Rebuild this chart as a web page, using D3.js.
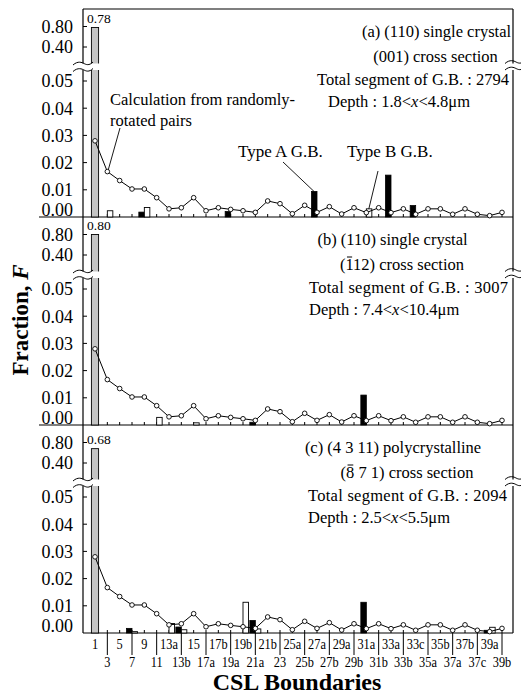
<!DOCTYPE html>
<html>
<head>
<meta charset="utf-8">
<script src="https://cdn.jsdelivr.net/npm/d3@7"></script>
<style>
  html, body { margin: 0; padding: 0; background: #fff; }
  svg { display: block; }
  text { font-family: "Liberation Serif", "Times New Roman", serif; fill: #000; }
</style>
</head>
<body>
<svg id="chart" width="521" height="697"></svg>
<script>
// CSL boundary categories (Sigma value + variant)
const categories = ["1","3","5","7","9","11","13a","13b","15","17a","17b","19a","19b","21a","21b","23",
  "25a","25b","27a","27b","29a","29b","31a","31b","33a","33b","33c","35a","35b","37a","37b","37c","39a","39b"];

// Fraction expected for randomly-rotated pairs (same curve in every panel)
const randomPairs = [0.028, 0.0167, 0.0134, 0.0103, 0.0103, 0.0071, 0.0030, 0.0034, 0.0071, 0.0023,
  0.0034, 0.0028, 0.0023, 0.0017, 0.0059, 0.0049, 0.0012, 0.0043, 0.0017, 0.0038, 0.0011, 0.0034,
  0.0016, 0.0034, 0.0016, 0.0030, 0.0010, 0.0030, 0.0030, 0.0010, 0.0030, 0.0010, 0.0005, 0.0017];

// Sigma 1 (low-angle) fraction for panels a, b, c
const sigma1 = [0.78, 0.80, 0.68];

// Type A (black) and Type B (white) grain boundary fractions, [category, value]
const typeA_a = [["9", 0.0018], ["19a", 0.0020], ["27a", 0.0094], ["33a", 0.0154], ["33c", 0.0042]];
const typeB_a = [["3", 0.0023], ["9", 0.0035], ["31a", 0.0030]];
const typeA_b = [["21a", 0.0010], ["31a", 0.0110]];
const typeB_b = [["11", 0.0028], ["15", 0.0008]];
const typeA_c = [["7", 0.0017], ["13b", 0.0022], ["21a", 0.0046], ["31a", 0.0113], ["39a", 0.0010]];
const typeB_c = [["7", 0.0005], ["13a", 0.0035], ["13b", 0.0012], ["19b", 0.0113], ["21a", 0.0015], ["39a", 0.0021]];

// Axis ticks
const lowerTicks = [0, 0.01, 0.02, 0.03, 0.04, 0.05];
const upperTicks = [0.40, 0.80];

// Panel annotations (overbar index marks a barred Miller index digit)
const panelTitles = ["(a) (110) single crystal", "(b) (110) single crystal", "(c) (4 3 11) polycrystalline"];
const panelSections = ["(001) cross section", "(112) cross section", "(8 7 1) cross section"];
const sectionOverbar = [null, 1, 1];
const totalSegments = ["2794", "3007", "2094"];
const depthLow = ["1.8", "7.4", "2.5"];
const depthHigh = ["4.8", "10.4", "5.5"];

const typeAByPanel = [typeA_a, typeA_b, typeA_c];
const typeBByPanel = [typeB_a, typeB_b, typeB_c];

const svg = d3.select("#chart");
const axisLeft = 83, axisRight = 513;
const panelTops = [9, 217, 425];
const panelH = 208;

const x = d3.scalePoint().domain(categories).range([95, 502]);

// text layout per panel
const annoSize = 16.5;
const titleX = [436.5, 392.5, 393];
const sectionX = [435.5, 402, 407];
const totalX = [317, 309, 308];
const totalW = [192, 199, 199];
const depthX = [328, 309, 308];

const barW = 5.5;
const fmt = d3.format(".2f");

function breakMark(g, x0, y) {
  g.append("path")
    .attr("d", `M${x0},${y + 1.5} C${x0 + 5},${y - 3} ${x0 + 9},${y - 1} ${x0 + 11},${y} S${x0 + 16},${y + 2.5} ${x0 + 20},${y - 1.5}`)
    .attr("fill", "none").attr("stroke", "#000").attr("stroke-width", 1);
}

// outer top border
svg.append("line").attr("x1", axisLeft).attr("x2", axisRight).attr("y1", panelTops[0]).attr("y2", panelTops[0])
  .attr("stroke", "#000").attr("stroke-width", 1.2);

panelTops.forEach((T, p) => {
  const g = svg.append("g");
  const base = T + panelH;
  const yLow = d3.scaleLinear().domain([0, 0.05]).range([base, T + 72]);
  const yUp = d3.scaleLinear().domain([0, 0.8]).range([T + 58.5, T + 17.5]);
  const gapTop = T + 54.5, gapBot = T + 61;

  // frame: left and right axes broken at the scale break
  [axisLeft, axisRight].forEach(ax => {
    g.append("line").attr("x1", ax).attr("x2", ax).attr("y1", T).attr("y2", gapTop)
      .attr("stroke", "#000").attr("stroke-width", 1.2);
    g.append("line").attr("x1", ax).attr("x2", ax).attr("y1", gapBot).attr("y2", base)
      .attr("stroke", "#000").attr("stroke-width", 1.2);
  });
  // baseline (separator extends to the left between panels)
  g.append("line").attr("x1", p < 2 ? 39 : axisLeft).attr("x2", axisRight).attr("y1", base).attr("y2", base)
    .attr("stroke", "#000").attr("stroke-width", 1.2);

  // y ticks and labels
  lowerTicks.forEach(t => {
    const y = yLow(t);
    if (t > 0) g.append("line").attr("x1", axisLeft).attr("x2", axisLeft + 4).attr("y1", y).attr("y2", y)
      .attr("stroke", "#000").attr("stroke-width", 1);
    g.append("text").attr("x", 73).attr("y", t === 0 ? y - 7 : y).attr("dy", "0.35em")
      .attr("text-anchor", "end").attr("font-size", 18).text(fmt(t));
  });
  upperTicks.forEach(t => {
    const y = yUp(t);
    g.append("line").attr("x1", axisLeft).attr("x2", axisLeft + 4).attr("y1", y).attr("y2", y)
      .attr("stroke", "#000").attr("stroke-width", 1);
    g.append("text").attr("x", 73).attr("y", y).attr("dy", "0.35em")
      .attr("text-anchor", "end").attr("font-size", 18).text(fmt(t));
  });

  // x ticks
  categories.forEach(c => {
    g.append("line").attr("x1", x(c)).attr("x2", x(c)).attr("y1", base).attr("y2", base - 3)
      .attr("stroke", "#000").attr("stroke-width", 1);
  });

  // Sigma 1 bar (broken)
  const v1 = sigma1[p];
  const cx1 = x("1");
  g.append("rect").attr("x", cx1 - 3.6).attr("width", 7.2)
    .attr("y", yUp(v1)).attr("height", base - yUp(v1))
    .attr("fill", "#c4c4c4").attr("stroke", "#000").attr("stroke-width", 0.9);
  g.append("text").attr("x", 87).attr("y", yUp(v1) - 4.5).attr("font-size", 13.5).text(fmt(v1));

  // Type A (black, left of tick) and Type B (white, right of tick)
  g.selectAll(".typeA").data(typeAByPanel[p]).join("rect")
    .attr("x", d => x(d[0]) - barW).attr("width", barW)
    .attr("y", d => yLow(d[1])).attr("height", d => base - yLow(d[1]))
    .attr("fill", "#000").attr("stroke", "#000").attr("stroke-width", 0.8);
  g.selectAll(".typeB").data(typeBByPanel[p]).join("rect")
    .attr("x", d => x(d[0])).attr("width", barW)
    .attr("y", d => yLow(d[1])).attr("height", d => base - yLow(d[1]))
    .attr("fill", "#fff").attr("stroke", "#000").attr("stroke-width", 0.9);

  // random-pair calculation
  const line = d3.line().x((d, i) => x(categories[i])).y(d => yLow(d));
  g.append("path").attr("d", line(randomPairs)).attr("fill", "none")
    .attr("stroke", "#000").attr("stroke-width", 1);
  g.selectAll(".pt").data(randomPairs).join("circle")
    .attr("cx", (d, i) => x(categories[i])).attr("cy", d => yLow(d)).attr("r", 2.3)
    .attr("fill", "#fff").attr("stroke", "#000").attr("stroke-width", 0.9);

  // scale-break gap and marks
  g.append("rect").attr("x", cx1 - 5).attr("width", 10).attr("y", gapTop).attr("height", gapBot - gapTop)
    .attr("fill", "#fff");
  breakMark(g, 73, gapTop);
  breakMark(g, 73, gapBot);
  breakMark(g, 505, gapTop - 1.5);
  breakMark(g, 505, gapBot - 1.5);

  // annotations
  g.append("text").attr("x", titleX[p]).attr("y", T + 28).attr("text-anchor", "middle")
    .attr("font-size", annoSize).text(panelTitles[p]);
  const sec = g.append("text").attr("x", sectionX[p]).attr("y", T + 53).attr("text-anchor", "middle")
    .attr("font-size", annoSize).text(panelSections[p]);
  if (sectionOverbar[p] !== null) {
    const ext = sec.node().getExtentOfChar(sectionOverbar[p]);
    g.append("line").attr("x1", ext.x + 1.5).attr("x2", ext.x + ext.width - 1)
      .attr("y1", T + 53 - 13).attr("y2", T + 53 - 13).attr("stroke", "#000").attr("stroke-width", 1);
  }
  g.append("text").attr("x", totalX[p]).attr("y", T + 75.5)
    .attr("textLength", totalW[p]).attr("lengthAdjust", "spacing")
    .attr("font-size", annoSize).text("Total segment of G.B. : " + totalSegments[p]);
  const dt = g.append("text").attr("x", depthX[p]).attr("y", T + 97.5).attr("font-size", annoSize);
  dt.append("tspan").text("Depth : " + depthLow[p] + "<");
  dt.append("tspan").attr("font-style", "italic").text("x");
  dt.append("tspan").text("<" + depthHigh[p] + "\u03bcm");

  if (p === 0) {
    // callouts
    g.append("text").attr("x", 110).attr("y", 105).attr("font-size", annoSize).text("Calculation from randomly-");
    g.append("text").attr("x", 110).attr("y", 126).attr("font-size", annoSize).text("rotated pairs");
    g.append("line").attr("x1", 120).attr("y1", 128).attr("x2", x("3") + 1).attr("y2", yLow(randomPairs[1]) - 2)
      .attr("stroke", "#000").attr("stroke-width", 0.9);

    g.append("text").attr("x", 238).attr("y", 157).attr("font-size", 17).text("Type A G.B.");
    const a27 = typeA_a.find(d => d[0] === "27a");
    g.append("line").attr("x1", 283).attr("y1", 162).attr("x2", x("27a") - 3).attr("y2", yLow(a27[1]))
      .attr("stroke", "#000").attr("stroke-width", 0.9);

    g.append("text").attr("x", 347).attr("y", 157).attr("font-size", 17).text("Type B G.B.");
    const b31 = typeB_a.find(d => d[0] === "31a");
    g.append("line").attr("x1", 378).attr("y1", 171).attr("x2", x("31a") + 2.5).attr("y2", yLow(b31[1]))
      .attr("stroke", "#000").attr("stroke-width", 0.9);
  }
});

// category labels, staggered in two rows
const baseC = panelTops[2] + panelH;
categories.forEach((c, i) => {
  const top = i % 2 === 0;
  if (!top) {
    svg.append("line").attr("x1", x(c)).attr("x2", x(c)).attr("y1", baseC).attr("y2", baseC + 22)
      .attr("stroke", "#000").attr("stroke-width", 1);
  }
  svg.append("text")
    .attr("transform", `translate(${x(c)},${top ? baseC + 16 : baseC + 33.5}) scale(0.85,1)`)
    .attr("text-anchor", "middle").attr("font-size", 14.5).text(c);
});

// axis titles
svg.append("text").attr("x", 297).attr("y", 690).attr("text-anchor", "middle")
  .attr("font-size", 24).attr("font-weight", "bold").text("CSL Boundaries");
const yt = svg.append("text").attr("transform", "translate(28,320) rotate(-90)")
  .attr("text-anchor", "middle").attr("font-size", 23).attr("font-weight", "bold");
yt.append("tspan").text("Fraction, ");
yt.append("tspan").attr("font-style", "italic").text("F");
</script>
</body>
</html>
